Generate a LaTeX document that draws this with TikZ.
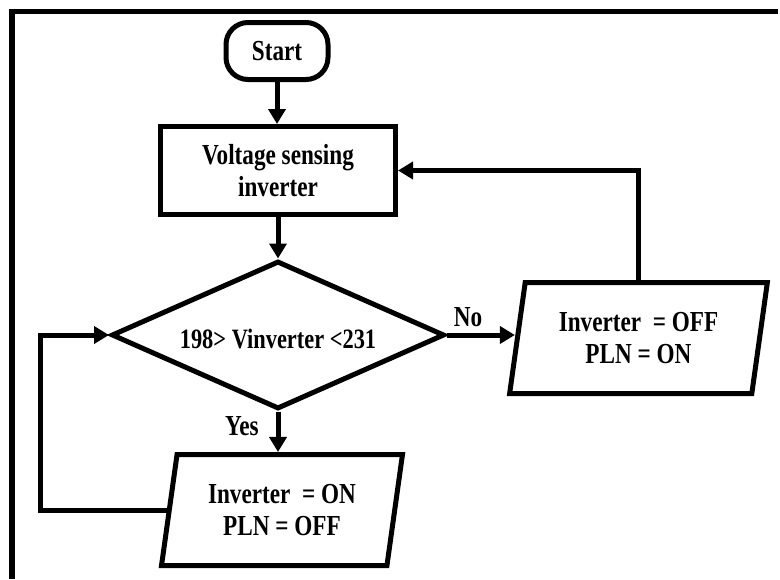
\documentclass[tikz,border=0pt]{standalone}
\usepackage{fontspec}
\setmainfont[FakeStretch=0.8]{Liberation Serif}
\usetikzlibrary{shapes.geometric,arrows.meta}
\begin{document}
\begin{tikzpicture}[x=1pt,y=-1pt,
  basenode/.style={draw, line width=5pt, font=\bfseries\fontsize{29}{32}\selectfont, align=center, inner sep=0pt},
  flowbox/.style={basenode, rectangle, minimum width=235pt, minimum height=88pt},
  terminal/.style={basenode, rectangle, rounded corners=22pt, minimum width=102pt, minimum height=57pt},
  decision/.style={basenode, diamond, aspect=2.3, minimum width=333pt, minimum height=148pt,
    font=\bfseries\fontsize{28}{32}\selectfont, text height=26pt, text depth=0pt},
  io/.style={basenode, trapezium, trapezium left angle=78, trapezium right angle=102, trapezium stretches=true, minimum height=111pt},
  lab/.style={font=\bfseries\fontsize{29}{32}\selectfont, inner sep=0pt},
  conn/.style={line width=5pt, -{Triangle[length=15pt,width=17pt]}},
  frameline/.style={line width=5.5pt}
]
\useasboundingbox (0,0) rectangle (780,579);
\draw[frameline] (778,11.5) -- (12,11.5) -- (12,579);

\node[terminal] (start) at (277,51) {Start};
\node[flowbox] (box) at (278,170.5) {Voltage sensing\\inverter};
\node[decision] (dia) at (278,335) {198> Vinverter <231};
\node[io, minimum width=258pt] (pr) at (638.5,338) {Inverter~ = OFF\\PLN = ON};
\node[io, minimum width=241pt] (pb) at (282,510) {Inverter~ = ON\\PLN = OFF};

\node[lab] (no) at (468,317) {No};
\node[lab] (yes) at (242,426) {Yes};

\coordinate (lx) at (40,0);

\draw[conn] (start.south) -- (start.south |- box.north);
\draw[conn] (box.south) -- (box.south |- dia.north);
\draw[conn] (dia.east) -- (dia.east -| pr.west);
\draw[conn] (dia.south) -- (dia.south |- pb.north);
\draw[conn] (pr.north) |- (box.east);
\draw[conn] (pb.west) -- (pb.west -| lx) |- (dia.west);
\end{tikzpicture}
\end{document}
